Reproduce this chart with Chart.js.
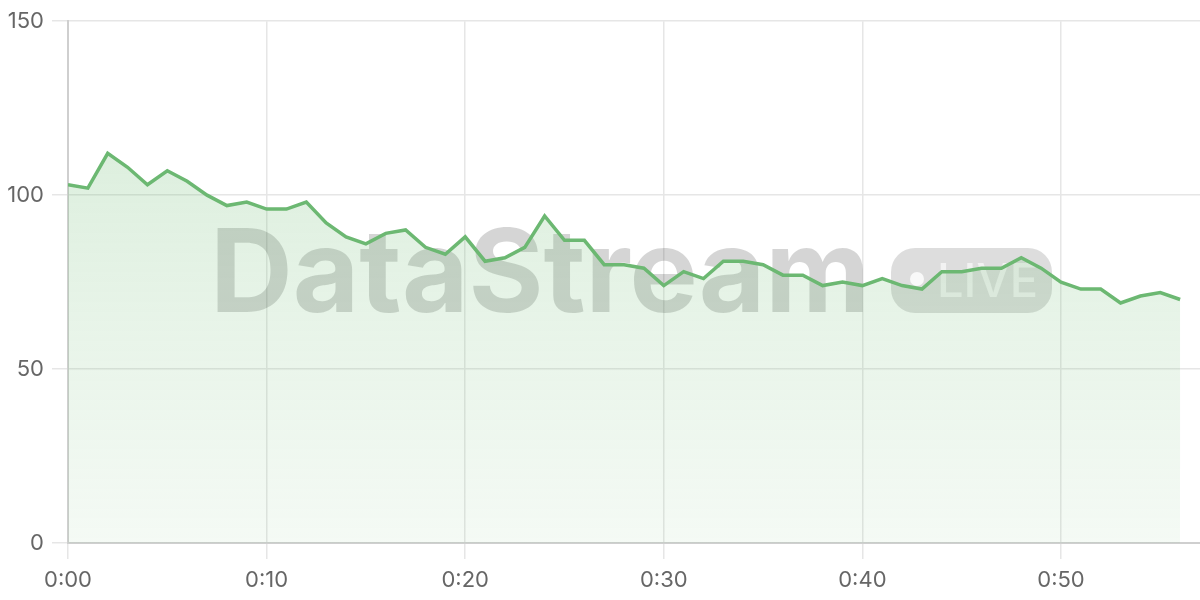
<!DOCTYPE html>
<html>
<head>
<meta charset="utf-8">
<script src="https://cdn.jsdelivr.net/npm/chart.js@4"></script>
<style>
html,body{margin:0;padding:0;background:#fff;}
#wrap{width:1200px;height:600px;position:relative;}
</style>
</head>
<body>
<div id="wrap"><canvas id="c"></canvas></div>
<script>
const minutes = [0,1,2,3,4,5,6,7,8,9,10,11,12,13,14,15,16,17,18,19,20,21,22,23,24,25,26,27,28,29,30,31,32,33,34,35,36,37,38,39,40,41,42,43,44,45,46,47,48,49,50,51,52,53,54,55,56];
const values = [103,102,112,108,103,107,104,100,97,98,96,96,98,92,88,86,89,90,85,83,88,81,82,85,94,87,87,80,80,79,74,78,76,81,81,80,77,77,74,75,74,76,74,73,78,78,79,79,82,79,75,73,73,69,71,72,70];
const yTicks = [0,50,100,150];
const xTicks = [0,10,20,30,40,50];
const watermarkText = 'DataStream';
const badgeText = 'LIVE';

const points = minutes.map((m,i)=>({x:m,y:values[i]}));

const watermark = {
  id:'watermark',
  beforeDatasetsDraw(chart){
    const ctx = chart.ctx;
    ctx.save();
    ctx.font = 'bold 115px Inter';
    const w = ctx.measureText(watermarkText).width;
    ctx.translate(210, 312);
    ctx.scale(660 / w, 1);
    ctx.fillStyle = 'rgba(0,0,0,0.165)';
    ctx.textBaseline = 'alphabetic';
    ctx.fillText(watermarkText, 0, 0);
    ctx.restore();

    ctx.save();
    ctx.fillStyle = 'rgba(0,0,0,0.135)';
    ctx.beginPath();
    ctx.roundRect(891, 248, 161, 65, 24);
    ctx.fill();
    ctx.fillStyle = 'rgba(255,255,255,0.8)';
    ctx.beginPath();
    ctx.arc(917, 279, 7, 0, Math.PI*2);
    ctx.fill();
    ctx.font = '500 47px Inter';
    ctx.fillStyle = 'rgba(255,255,255,0.6)';
    ctx.fillText(badgeText, 937, 297);
    ctx.restore();
  }
};

new Chart(document.getElementById('c'), {
  type:'line',
  data:{
    datasets:[{
      data:points,
      borderColor:'#6cb872',
      borderWidth:3.5,
      pointRadius:0,
      tension:0,
      fill:'origin',
      backgroundColor(ctx){
        const ca = ctx.chart.chartArea;
        if(!ca) return 'rgba(106,185,111,0.15)';
        const g = ctx.chart.ctx.createLinearGradient(0, ca.top, 0, ca.bottom);
        g.addColorStop(0,'rgba(106,185,111,0.28)');
        g.addColorStop(1,'rgba(106,185,111,0.07)');
        return g;
      }
    }]
  },
  options:{
    responsive:true,
    maintainAspectRatio:false,
    animation:false,
    layout:{padding:{top:20,right:0,left:0,bottom:0}},
    plugins:{legend:{display:false},tooltip:{enabled:false}},
    scales:{
      x:{
        type:'linear',
        min:0,max:57,
        afterFit(s){ s.height = 57; },
        afterBuildTicks(s){ s.ticks = xTicks.map(v=>({value:v})); },
        ticks:{
          color:'#666',
          font:{family:'Inter',size:22},
          padding:8,
          maxRotation:0,
          callback:v=>'0:'+String(v).padStart(2,'0')
        },
        grid:{color:'#e6e6e6',lineWidth:1.5,tickLength:16},
        border:{color:'#cfcfcf',width:2}
      },
      y:{
        min:0,max:150,
        afterFit(s){ s.width = 68; },
        afterBuildTicks(s){ s.ticks = yTicks.map(v=>({value:v})); },
        ticks:{
          color:'#666',
          font:{family:'Inter',size:22},
          padding:8
        },
        grid:{color:'#e6e6e6',lineWidth:1.5,tickLength:16},
        border:{color:'#cfcfcf',width:2}
      }
    }
  },
  plugins:[watermark]
});
</script>
</body>
</html>
